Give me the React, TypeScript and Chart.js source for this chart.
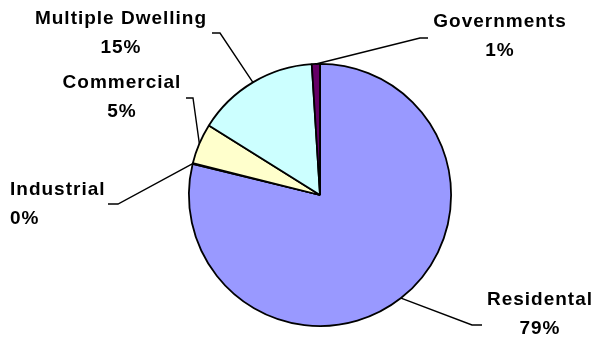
import React, { useEffect, useRef } from "react";
import { Chart, registerables } from "chart.js";
Chart.register(...registerables);

const categories = ["Residental", "Industrial", "Commercial", "Multiple Dwelling", "Governments"];
const values = [78.8, 0.1, 5.0, 15.1, 1.0];
const colors = ["#9999FF", "#FF8080", "#FFFFCC", "#CCFFFF", "#660066"];

// label placement (layout only)
const labelLayout = [
  { x: 540, y: 300, align: "center", elbow: [472, 325], end: [482, 325] },
  { x: 10, y: 190, align: "left", elbow: [118, 204], end: [108, 204] },
  { x: 122, y: 83, align: "center", elbow: [193, 98], end: [186, 98] },
  { x: 121, y: 19, align: "center", elbow: [220, 33], end: [212, 33] },
  { x: 500, y: 22, align: "center", elbow: [420, 38], end: [428, 38] },
];

const labelPlugin = {
  id: "excelLabels",
  afterDraw(chart: any) {
    const ctx = chart.ctx;
    const meta = chart.getDatasetMeta(0);
    const data = chart.data.datasets[0].data as number[];
    const total = data.reduce((a, b) => a + b, 0);
    ctx.save();
    meta.data.forEach((arc: any, i: number) => {
      const L = labelLayout[i];
      const mid = (arc.startAngle + arc.endAngle) / 2;
      const ex = arc.x + Math.cos(mid) * arc.outerRadius;
      const ey = arc.y + Math.sin(mid) * arc.outerRadius;
      ctx.strokeStyle = "#000";
      ctx.lineWidth = 1.4;
      ctx.beginPath();
      ctx.moveTo(ex, ey);
      ctx.lineTo(L.elbow[0], L.elbow[1]);
      ctx.lineTo(L.end[0], L.end[1]);
      ctx.stroke();
      ctx.fillStyle = "#000";
      ctx.font = "bold 19px 'Liberation Sans', Arial, sans-serif";
      (ctx as any).letterSpacing = "1px";
      ctx.textAlign = L.align;
      ctx.textBaseline = "middle";
      ctx.fillText(chart.data.labels[i], L.x, L.y);
      const pct = Math.round((data[i] / total) * 100) + "%";
      ctx.fillText(pct, L.x, L.y + 29);
    });
    ctx.restore();
  },
};

export default function App() {
  const ref = useRef<HTMLCanvasElement>(null);
  useEffect(() => {
    const chart = new Chart(ref.current!, {
      type: "pie",
      data: {
        labels: categories,
        datasets: [
          {
            data: values,
            backgroundColor: colors,
            borderColor: "#000",
            borderWidth: 1.8,
          },
        ],
      },
      options: {
        animation: false,
        responsive: false,
        layout: { padding: { left: 188, right: 142, top: 63, bottom: 12 } },
        plugins: { legend: { display: false }, tooltip: { enabled: false } },
      },
      plugins: [labelPlugin],
    });
    return () => chart.destroy();
  }, []);
  return (
    <div style={{ position: "absolute", left: 0, top: 0, width: 594, height: 339, background: "#fff" }}>
      <canvas ref={ref} width={594} height={339} />
    </div>
  );
}
